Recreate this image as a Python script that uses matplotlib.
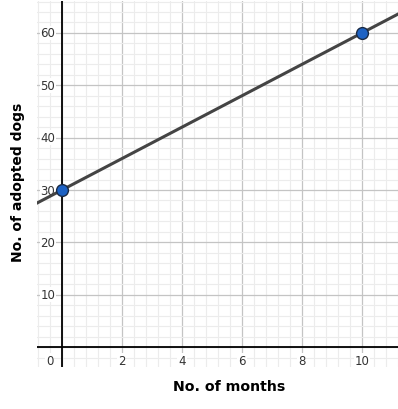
import numpy as np
import matplotlib.pyplot as plt
from matplotlib.ticker import MultipleLocator

# points from the chart
months = [0, 10]
dogs = [30, 60]
x_ticks = [2, 4, 6, 8, 10]
y_ticks = [10, 20, 30, 40, 50, 60]

fig = plt.figure(figsize=(3.98, 4.10), dpi=100)
ax = fig.add_axes([37/398, 42/410, 361/398, 366/410])
xmin, xmax = -0.83, 11.2
ymin, ymax = -3.8, 66.1
ax.set_xlim(xmin, xmax)
ax.set_ylim(ymin, ymax)

ax.xaxis.set_major_locator(MultipleLocator(2))
ax.xaxis.set_minor_locator(MultipleLocator(0.4))
ax.yaxis.set_major_locator(MultipleLocator(10))
ax.yaxis.set_minor_locator(MultipleLocator(2))
ax.grid(which='minor', color='#ececec', lw=0.8)
ax.grid(which='major', color='#c4c4c4', lw=0.9)
ax.set_axisbelow(True)
ax.tick_params(which='both', length=0, labelbottom=False, labelleft=False)
for s in ax.spines.values():
    s.set_visible(False)

ax.axhline(0, color='black', lw=1.3, zorder=2)
ax.axvline(0, color='black', lw=1.3, zorder=2)

# line through the two points, extended over the whole view
slope = (dogs[1] - dogs[0]) / (months[1] - months[0])
xs = np.array([xmin, xmax])
ax.plot(xs, dogs[0] + slope * (xs - months[0]), color='#444444', lw=2.2, zorder=3)
ax.plot(months, dogs, 'o', ms=8.5, mfc='#1d62c4', mec='#1a2a44', mew=1.0, zorder=4)

box = dict(facecolor='white', edgecolor='none', pad=0.6)
for t in x_ticks:
    ax.text(t, -2.5, str(t), ha='center', va='center', fontsize=8.5,
            color='#333333', bbox=box, zorder=2.5)
ax.text(-0.4, -2.5, '0', ha='center', va='center', fontsize=8.5,
        color='#333333', bbox=box, zorder=2.5)
for t in y_ticks:
    ax.text(-0.22, t, str(t), ha='right', va='center', fontsize=8.5,
            color='#333333', bbox=box, zorder=2.5)

fig.text(229/398, 1 - 387/410, 'No. of months', ha='center', va='center',
         fontsize=10.2, fontweight='bold')
fig.text(18/398, 1 - 182/410, 'No. of adopted dogs', ha='center', va='center',
         rotation=90, fontsize=10, fontweight='bold')

fig.savefig('out.png', dpi=100)
